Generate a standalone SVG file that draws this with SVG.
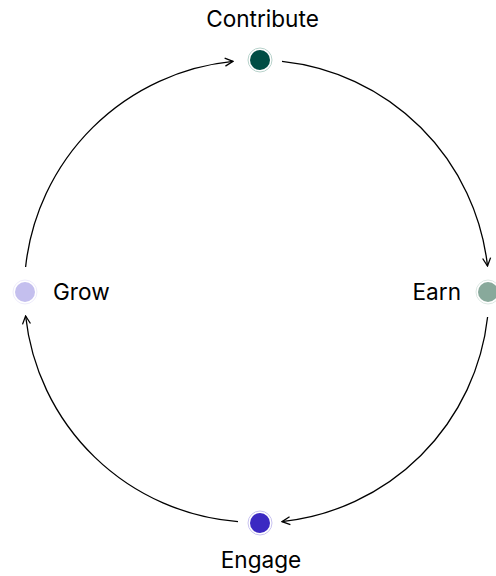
<svg xmlns="http://www.w3.org/2000/svg" width="496" height="576" viewBox="0 0 496 576">
<style>
.lbl{font-family:Inter,"Liberation Sans",sans-serif;font-size:22.6px;fill:#000}
.arc{fill:none;stroke:#000;stroke-width:1.3}
.ring{fill:none;stroke-width:1}
</style>
<defs>
<marker id="ah" viewBox="0 0 10 10" refX="9" refY="5" markerWidth="10" markerHeight="10" markerUnits="userSpaceOnUse" orient="auto">
<path d="M1,1 L9,5 L1,9" fill="none" stroke="#000" stroke-width="1.3"/>
</marker>
</defs>
<rect width="496" height="576" fill="#fff"/>
<g id="connectors">
<path class="arc" d="M282,61.4 A231.5,231.5 0 0 1 487.5,266" marker-end="url(#ah)"/>
<path class="arc" d="M487.6,317 A231.5,231.5 0 0 1 282,521.6" marker-end="url(#ah)"/>
<path class="arc" d="M238,521.6 A231.5,231.5 0 0 1 25.6,316" marker-end="url(#ah)"/>
<path class="arc" d="M25.6,267 A231.5,231.5 0 0 1 233,61.4" marker-end="url(#ah)"/>
</g>
<g id="contribute">
<circle cx="260" cy="60" r="12" class="ring" stroke="#b9d3cc"/>
<circle cx="260" cy="60" r="10" fill="#004d44"/>
<text class="lbl" x="262.5" y="27" text-anchor="middle">Contribute</text>
</g>
<g id="earn">
<circle cx="488" cy="292" r="12" class="ring" stroke="#dde8e3"/>
<circle cx="488" cy="292" r="10" fill="#88a99b"/>
<text class="lbl" x="461" y="300" text-anchor="end">Earn</text>
</g>
<g id="engage">
<circle cx="260" cy="523" r="12" class="ring" stroke="#c9c3f1"/>
<circle cx="260" cy="523" r="10" fill="#3b29c2"/>
<text class="lbl" x="261" y="568" text-anchor="middle">Engage</text>
</g>
<g id="grow">
<circle cx="25" cy="292" r="12" class="ring" stroke="#eeecfb"/>
<circle cx="25" cy="292" r="10" fill="#c4bfee"/>
<text class="lbl" x="53" y="300">Grow</text>
</g>
</svg>
